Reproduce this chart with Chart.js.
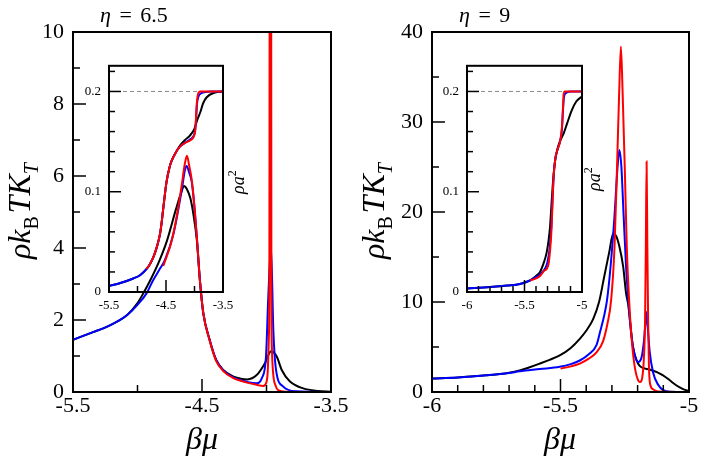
<!DOCTYPE html>
<html><head><meta charset="utf-8">
<script src="https://cdn.jsdelivr.net/npm/chart.js@4.4.1/dist/chart.umd.min.js"></script>
<style>
body{margin:0;background:#fff;}
#wrap{position:relative;width:706px;height:464px;background:#fff;overflow:hidden;font-family:'Liberation Serif','Times New Roman',serif;color:#000;}
canvas{position:absolute;}
.lbl{position:absolute;white-space:nowrap;}
.rot{transform:rotate(-90deg);transform-origin:0 0;}
.big{font-size:32px;line-height:32px;}
.sub{font-size:20px;position:relative;top:8px;}
.ins{font-size:18px;line-height:18px;}
.sup{font-size:12px;position:relative;top:-8px;}
.ttl{font-size:22px;line-height:22px;word-spacing:3px;}
</style></head><body>
<div id="wrap">
<canvas id="mainL" width="353" height="464" style="left:0;top:0"></canvas>
<canvas id="mainR" width="353" height="464" style="left:353px;top:0"></canvas>
<canvas id="insL" width="200" height="280" style="left:60px;top:50px"></canvas>
<canvas id="insR" width="200" height="280" style="left:418px;top:50px"></canvas>
<div class="lbl ttl" style="left:100px;top:4px"><i>η</i> = 6.5</div>
<div class="lbl ttl" style="left:459px;top:4px"><i>η</i> = 9</div>
<div class="lbl rot big" style="left:3px;top:259px"><i>ρk</i><span class="sub">B</span>&#8202;<i>TK</i><span class="sub"><i>T</i></span></div>
<div class="lbl rot big" style="left:357px;top:259px"><i>ρk</i><span class="sub">B</span>&#8202;<i>TK</i><span class="sub"><i>T</i></span></div>
<div class="lbl big" style="left:202px;top:422px;transform:translateX(-50%)"><i>βμ</i></div>
<div class="lbl big" style="left:560px;top:422px;transform:translateX(-50%)"><i>βμ</i></div>
<div class="lbl rot ins" style="left:229px;top:194px"><i>ρa</i><span class="sup">2</span></div>
<div class="lbl rot ins" style="left:585px;top:191px"><i>ρa</i><span class="sup">2</span></div>
</div>
<script>
// ---------- tick labels ----------
const leftMainXLabels = [-5.5, -4.5, -3.5];
const leftMainYLabels = [0, 2, 4, 6, 8, 10];
const rightMainXLabels = [-6, -5.5, -5];
const rightMainYLabels = [0, 10, 20, 30, 40];
const leftInsetXLabels = [-5.5, -4.5, -3.5];
const rightInsetXLabels = [-6, -5.5, -5];
const insetYLabels = [0, 0.1, 0.2];

// ---------- eta = 6.5 : rho kB T KT vs beta mu ----------
const leftBlack = [[-5.5,1.45],[-5.37,1.63],[-5.21,1.86],[-5.08,2.14],[-5.0,2.47],[-4.955,2.74],[-4.9,3.11],[-4.83,3.65],[-4.77,4.22],[-4.7,5.1],[-4.66,5.55],[-4.64,5.72],[-4.615,5.62],[-4.59,5.38],[-4.565,4.9],[-4.54,4.22],[-4.515,3.05],[-4.49,2.19],[-4.44,1.44],[-4.39,0.89],[-4.335,0.61],[-4.26,0.43],[-4.2,0.37],[-4.15,0.35],[-4.076,0.47],[-4.012,0.8],[-3.965,1.13],[-3.92,0.98],[-3.882,0.61],[-3.818,0.29],[-3.715,0.1],[-3.6,0.03],[-3.5,0.01]];
const leftBlue = [[-5.5,1.45],[-5.37,1.63],[-5.21,1.86],[-5.08,2.14],[-5.0,2.42],[-4.93,2.74],[-4.878,3.11],[-4.83,3.4],[-4.787,3.67],[-4.72,4.41],[-4.657,5.61],[-4.632,6.17],[-4.619,6.28],[-4.6,6.1],[-4.58,5.85],[-4.56,5.2],[-4.54,4.3],[-4.515,3.05],[-4.49,2.19],[-4.44,1.44],[-4.39,0.89],[-4.335,0.6],[-4.26,0.41],[-4.15,0.28],[-4.076,0.24],[-4.037,0.38],[-4.004,0.98],[-3.986,2.65],[-3.965,4.04],[-3.947,1.72],[-3.926,0.61],[-3.87,0.15],[-3.77,0.02],[-3.5,0]];
const leftRed = [[-4.8,3.5],[-4.735,4.2],[-4.69,5.0],[-4.655,5.8],[-4.635,6.3],[-4.617,6.56],[-4.6,6.3],[-4.58,5.9],[-4.56,5.2],[-4.54,4.3],[-4.515,3.05],[-4.49,2.19],[-4.44,1.42],[-4.39,0.86],[-4.335,0.58],[-4.26,0.39],[-4.15,0.26],[-4.076,0.2],[-4.025,0.17],[-4.0,0.28],[-3.99,0.6],[-3.982,1.5],[-3.978,3.0],[-3.97,40],[-3.962,3.0],[-3.958,1.2],[-3.948,0.5],[-3.93,0.18],[-3.91,0.05],[-3.85,0.01],[-3.5,0]];

// ---------- eta = 6.5 inset : rho a^2 vs beta mu ----------
const leftInsetBlack = [[-5.5,0.006],[-5.3,0.009],[-5.074,0.0135],[-4.95,0.017],[-4.84,0.023],[-4.78,0.028],[-4.72,0.035],[-4.66,0.045],[-4.605,0.058],[-4.575,0.07],[-4.547,0.084],[-4.49,0.11],[-4.44,0.124],[-4.4,0.131],[-4.33,0.139],[-4.255,0.146],[-4.16,0.152],[-4.08,0.156],[-4.0,0.163],[-3.95,0.172],[-3.9,0.179],[-3.85,0.188],[-3.79,0.194],[-3.64,0.199],[-3.5,0.2]];
const leftInsetBlue = [[-5.5,0.006],[-5.3,0.009],[-5.074,0.0135],[-4.95,0.017],[-4.84,0.023],[-4.78,0.028],[-4.72,0.035],[-4.66,0.045],[-4.605,0.058],[-4.575,0.07],[-4.547,0.084],[-4.49,0.11],[-4.44,0.124],[-4.4,0.131],[-4.33,0.139],[-4.255,0.145],[-4.16,0.149],[-4.08,0.152],[-4.0,0.158],[-3.975,0.17],[-3.955,0.188],[-3.93,0.195],[-3.89,0.198],[-3.7,0.2],[-3.5,0.2]];
const leftInsetRed = [[-4.84,0.023],[-4.78,0.028],[-4.72,0.035],[-4.66,0.045],[-4.605,0.058],[-4.575,0.07],[-4.547,0.084],[-4.49,0.11],[-4.44,0.124],[-4.4,0.131],[-4.33,0.139],[-4.255,0.145],[-4.16,0.149],[-4.08,0.151],[-4.0,0.157],[-3.985,0.162],[-3.965,0.184],[-3.94,0.197],[-3.9,0.2],[-3.5,0.2]];
const leftInsetRef = [[-5.5,0.2],[-3.5,0.2]];

// ---------- eta = 9 : rho kB T KT vs beta mu ----------
const rightBlack = [[-6.0,1.5],[-5.9,1.62],[-5.788,1.85],[-5.7,2.15],[-5.659,2.4],[-5.62,2.75],[-5.581,3.15],[-5.54,3.6],[-5.503,4.07],[-5.46,4.9],[-5.425,5.9],[-5.4,6.8],[-5.373,8.1],[-5.35,10.0],[-5.33,12.8],[-5.31,15.6],[-5.295,17.6],[-5.283,17.3],[-5.272,16.3],[-5.256,13.9],[-5.245,11.0],[-5.236,9.6],[-5.228,7.5],[-5.218,5.0],[-5.205,3.6],[-5.192,2.9],[-5.17,2.6],[-5.148,2.45],[-5.125,2.2],[-5.101,1.85],[-5.075,1.3],[-5.05,0.75],[-5.025,0.35],[-5.0,0.08]];
const rightBlue = [[-6.0,1.5],[-5.9,1.62],[-5.788,1.85],[-5.7,2.1],[-5.659,2.3],[-5.58,2.55],[-5.503,2.8],[-5.46,3.1],[-5.425,3.5],[-5.39,4.2],[-5.36,5.2],[-5.345,6.8],[-5.33,8.5],[-5.319,10.2],[-5.305,14.0],[-5.29,19.5],[-5.278,25.0],[-5.271,26.9],[-5.263,25.0],[-5.255,20.0],[-5.245,14.0],[-5.236,10.2],[-5.225,6.5],[-5.211,4.1],[-5.198,3.33],[-5.185,3.8],[-5.176,5.5],[-5.17,7.5],[-5.166,8.9],[-5.16,7.0],[-5.153,4.5],[-5.14,2.2],[-5.12,0.8],[-5.1,0.2],[-5.07,0.03],[-5.0,0]];
const rightRed = [[-5.5,2.6],[-5.46,2.85],[-5.425,3.15],[-5.39,3.7],[-5.36,4.4],[-5.335,5.6],[-5.318,7.5],[-5.303,10.2],[-5.29,16.0],[-5.28,25.0],[-5.272,33.0],[-5.265,38.4],[-5.258,33.0],[-5.25,25.0],[-5.242,16.0],[-5.233,10.2],[-5.222,5.5],[-5.21,2.6],[-5.198,1.3],[-5.19,1.1],[-5.182,1.6],[-5.176,3.5],[-5.171,8.0],[-5.168,16.0],[-5.165,25.6],[-5.162,16.0],[-5.159,8.0],[-5.156,3.0],[-5.152,1.0],[-5.14,0.3],[-5.12,0.05],[-5.0,0]];

// ---------- eta = 9 inset : rho a^2 vs beta mu ----------
const rightInsetBlack = [[-6.0,0.0035],[-5.8,0.005],[-5.65,0.0065],[-5.54,0.008],[-5.452,0.0115],[-5.4,0.016],[-5.365,0.02],[-5.33,0.03],[-5.308,0.039],[-5.29,0.052],[-5.278,0.065],[-5.265,0.088],[-5.25,0.113],[-5.235,0.13],[-5.215,0.142],[-5.19,0.151],[-5.16,0.158],[-5.13,0.168],[-5.09,0.181],[-5.05,0.19],[-5.0,0.195]];
const rightInsetBlue = [[-6.0,0.0035],[-5.8,0.005],[-5.65,0.0065],[-5.54,0.008],[-5.452,0.0115],[-5.4,0.015],[-5.35,0.019],[-5.3,0.03],[-5.28,0.045],[-5.267,0.065],[-5.255,0.095],[-5.245,0.118],[-5.232,0.133],[-5.21,0.143],[-5.189,0.151],[-5.174,0.163],[-5.166,0.18],[-5.158,0.193],[-5.145,0.198],[-5.1,0.2],[-5.0,0.2]];
const rightInsetRed = [[-5.45,0.0115],[-5.4,0.0135],[-5.365,0.016],[-5.33,0.021],[-5.293,0.027],[-5.275,0.045],[-5.264,0.065],[-5.255,0.095],[-5.245,0.118],[-5.232,0.133],[-5.21,0.143],[-5.189,0.151],[-5.174,0.165],[-5.165,0.185],[-5.16,0.197],[-5.15,0.2],[-5.0,0.2]];
const rightInsetRef = [[-6.0,0.2],[-5.0,0.2]];

// ---------- helpers ----------
const SERIF = "'Liberation Serif','Times New Roman',serif";
const near = (a, b) => Math.abs(a - b) < 1e-6;
const inList = (v, list) => list.some(l => near(l, v));
const isMult = (v, step, base) => { const r = (v - base) / step; return Math.abs(r - Math.round(r)) < 1e-6; };
const fmt = v => String(Math.round(v * 1000) / 1000);

const axisDeco = {
  id: 'axisDeco',
  afterDatasetsDraw(chart, args, o) {
    const {ctx, chartArea: a} = chart;
    const xs = chart.scales.x, ys = chart.scales.y;
    ctx.save();
    ctx.strokeStyle = '#000';
    ctx.lineWidth = o.tickWidth;
    for (const t of xs.ticks) {
      if (!isMult(t.value, o.xStep, xs.min)) continue;
      const p = xs.getPixelForValue(t.value);
      const len = inList(t.value, o.xLabels) ? o.major : o.minor;
      ctx.beginPath(); ctx.moveTo(p, a.bottom); ctx.lineTo(p, a.bottom - len); ctx.stroke();
    }
    for (const t of ys.ticks) {
      if (!isMult(t.value, o.yStep, ys.min)) continue;
      const p = ys.getPixelForValue(t.value);
      const len = inList(t.value, o.yLabels) ? o.major : o.minor;
      ctx.beginPath(); ctx.moveTo(a.left, p); ctx.lineTo(a.left + len, p); ctx.stroke();
    }
    ctx.lineWidth = o.frameWidth;
    ctx.strokeRect(a.left, a.top, a.right - a.left, a.bottom - a.top);
    ctx.restore();
  }
};

function line(points, color, order, width, dash) {
  return {
    data: points.map(p => ({x: p[0], y: p[1]})),
    borderColor: color, backgroundColor: color, borderWidth: width,
    borderDash: dash || [], pointRadius: 0, showLine: true, fill: false,
    cubicInterpolationMode: 'monotone', order
  };
}

function build(id, datasets, c) {
  return new Chart(document.getElementById(id), {
    type: 'scatter',
    data: {datasets},
    options: {
      responsive: false, animation: false, events: [],
      layout: {padding: c.pad},
      plugins: {
        legend: {display: false}, tooltip: {enabled: false},
        axisDeco: {xStep: c.xStep, yStep: c.yStep, xLabels: c.xLabels, yLabels: c.yLabels,
                   major: c.major, minor: c.minor, tickWidth: 1.5, frameWidth: 2}
      },
      scales: {
        x: {
          type: 'linear', min: c.xMin, max: c.xMax,
          afterFit: s => { s.height = c.xH; },
          grid: {display: false, drawTicks: false}, border: {display: false},
          ticks: {stepSize: c.xStep, includeBounds: false, autoSkip: false, maxRotation: 0, minRotation: 0,
                  padding: c.xPad, color: '#000', font: {family: SERIF, size: c.fs},
                  callback: v => inList(v, c.xLabels) ? fmt(v) : ''}
        },
        y: {
          type: 'linear', min: c.yMin, max: c.yMax,
          afterFit: s => { s.width = c.yW; },
          grid: {display: false, drawTicks: false}, border: {display: false},
          ticks: {stepSize: c.yStep, includeBounds: false, autoSkip: false,
                  padding: c.yPad, color: '#000', font: {family: SERIF, size: c.fs},
                  callback: v => inList(v, c.yLabels) ? fmt(v) : ''}
        }
      }
    },
    plugins: [axisDeco]
  });
}

const BLACK = '#000000', BLUE = '#0000ff', RED = '#ff0000', GREY = '#8a8a8a';

build('mainL', [
  line(leftRed, RED, 1, 2), line(leftBlue, BLUE, 2, 2), line(leftBlack, BLACK, 3, 2)
], {xMin: -5.5, xMax: -3.5, xStep: 0.5, yMin: 0, yMax: 10, yStep: 1,
    xLabels: leftMainXLabels, yLabels: leftMainYLabels,
    pad: {left: 0, top: 32, right: 22, bottom: 0}, yW: 73, xH: 72,
    xPad: 1, yPad: 9, fs: 22, major: 13, minor: 7});

build('mainR', [
  line(rightRed, RED, 1, 2), line(rightBlue, BLUE, 2, 2), line(rightBlack, BLACK, 3, 2)
], {xMin: -6, xMax: -5, xStep: 0.1, yMin: 0, yMax: 40, yStep: 5,
    xLabels: rightMainXLabels, yLabels: rightMainYLabels,
    pad: {left: 0, top: 32, right: 17, bottom: 0}, yW: 79, xH: 72,
    xPad: 1, yPad: 9, fs: 22, major: 13, minor: 7});

build('insL', [
  line(leftInsetRed, RED, 1, 2), line(leftInsetBlue, BLUE, 2, 2), line(leftInsetBlack, BLACK, 3, 2),
  line(leftInsetRef, GREY, 4, 1, [4, 3])
], {xMin: -5.5, xMax: -3.5, xStep: 0.5, yMin: 0, yMax: 0.2256, yStep: 0.02,
    xLabels: leftInsetXLabels, yLabels: insetYLabels,
    pad: {left: 0, top: 13, right: 37, bottom: 0}, yW: 49, xH: 38,
    xPad: 6, yPad: 8, fs: 13, major: 12, minor: 6});

build('insR', [
  line(rightInsetRed, RED, 1, 2), line(rightInsetBlue, BLUE, 2, 2), line(rightInsetBlack, BLACK, 3, 2),
  line(rightInsetRef, GREY, 4, 1, [4, 3])
], {xMin: -6, xMax: -5, xStep: 0.1, yMin: 0, yMax: 0.2256, yStep: 0.02,
    xLabels: rightInsetXLabels, yLabels: insetYLabels,
    pad: {left: 0, top: 13, right: 36, bottom: 0}, yW: 49, xH: 38,
    xPad: 6, yPad: 8, fs: 13, major: 12, minor: 6});
</script>
</body></html>
